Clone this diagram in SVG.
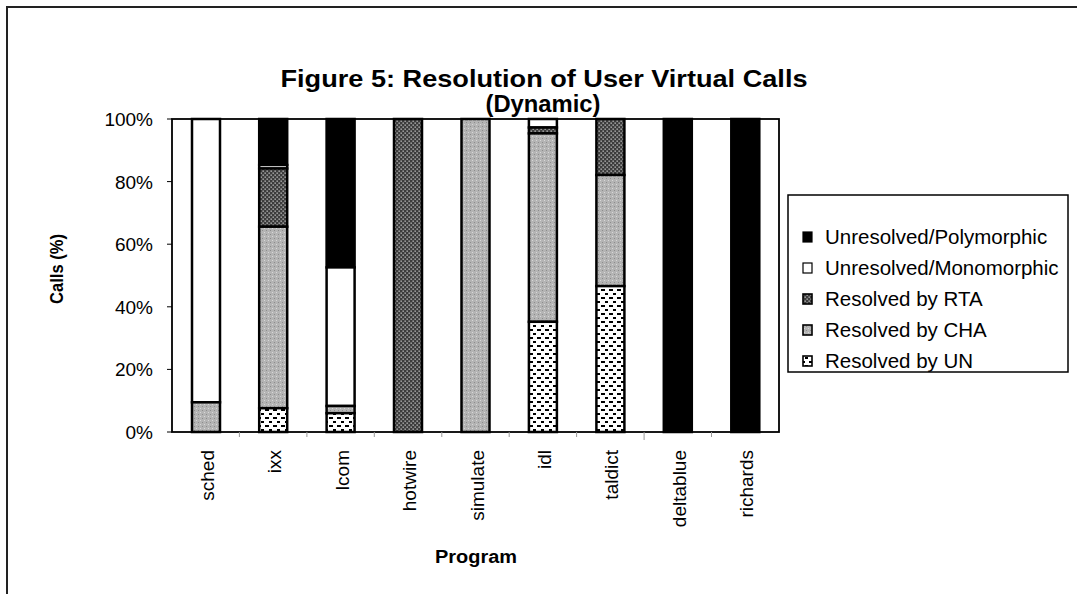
<svg xmlns="http://www.w3.org/2000/svg" width="1077" height="594" viewBox="0 0 1077 594">
<style>
text{font-family:"Liberation Sans",Arial,sans-serif;fill:#000}
.title{font-size:24px;font-weight:bold;text-anchor:middle}
.axt{font-size:18px;font-weight:bold;text-anchor:middle}
.tick{font-size:19px;text-anchor:end}
.cat{font-size:19px;text-anchor:end}
.leg{font-size:20.5px}
.seg{stroke:#000;stroke-width:2.5}
.poly{fill:#000}
.mono{fill:#fff}
.rta{fill:url(#pRTA)}
.cha{fill:url(#pCHA)}
.un{fill:url(#pUN)}
</style>
<defs>
<pattern id="pRTA" width="4" height="4" patternUnits="userSpaceOnUse">
<rect width="4" height="4" fill="#3c3c3c"/>
<rect x="0.5" y="0.5" width="1.3" height="1.3" fill="#c8c8c8"/>
<rect x="2.5" y="2.5" width="1.3" height="1.3" fill="#c8c8c8"/>
</pattern>
<pattern id="pCHA" width="4" height="4" patternUnits="userSpaceOnUse">
<rect width="4" height="4" fill="#b4b4b4"/>
<rect x="0" y="0" width="1" height="1" fill="#d8d8d8"/>
<rect x="2" y="2" width="1" height="1" fill="#8c8c8c"/>
</pattern>
<pattern id="pUN" width="8" height="8" patternUnits="userSpaceOnUse">
<rect width="8" height="8" fill="#fff"/>
<rect x="1" y="1" width="4" height="2" fill="#000"/>
<rect x="5" y="5" width="4" height="2" fill="#000"/>
</pattern>
</defs>
<rect width="1077" height="594" fill="#fff"/>
<g id="frame">
<path d="M7,594 V7 H1077" fill="none" stroke="#222" stroke-width="2"/>
</g>
<g id="titles">
<text class="title" x="544" y="87" textLength="527" lengthAdjust="spacingAndGlyphs">Figure 5: Resolution of User Virtual Calls</text>
<text class="title" x="543" y="112" textLength="115" lengthAdjust="spacingAndGlyphs">(Dynamic)</text>
<text class="axt" transform="translate(63,269) rotate(-90)" textLength="70" lengthAdjust="spacingAndGlyphs">Calls (%)</text>
<text class="axt" x="476" y="563" textLength="82" lengthAdjust="spacingAndGlyphs">Program</text>
</g>
<g id="axes">
<rect x="172" y="119" width="607" height="313" fill="none" stroke="#000" stroke-width="1.8"/>
<g stroke="#000" stroke-width="1">
<line x1="167" y1="119" x2="172" y2="119"/>
<line x1="167" y1="181.6" x2="172" y2="181.6"/>
<line x1="167" y1="244.2" x2="172" y2="244.2"/>
<line x1="167" y1="306.8" x2="172" y2="306.8"/>
<line x1="167" y1="369.4" x2="172" y2="369.4"/>
<line x1="167" y1="432" x2="172" y2="432"/>
</g>
<g stroke="#999" stroke-width="1">
<line x1="239.4" y1="432" x2="239.4" y2="437"/>
<line x1="306.9" y1="432" x2="306.9" y2="437"/>
<line x1="374.3" y1="432" x2="374.3" y2="437"/>
<line x1="441.8" y1="432" x2="441.8" y2="437"/>
<line x1="509.2" y1="432" x2="509.2" y2="437"/>
<line x1="576.6" y1="432" x2="576.6" y2="437"/>
<line x1="644.1" y1="432" x2="644.1" y2="440"/>
<line x1="711.5" y1="432" x2="711.5" y2="437"/>
</g>
<text class="tick" x="153" y="126">100%</text>
<text class="tick" x="153" y="188.6">80%</text>
<text class="tick" x="153" y="251.2">60%</text>
<text class="tick" x="153" y="313.8">40%</text>
<text class="tick" x="153" y="376.4">20%</text>
<text class="tick" x="153" y="439">0%</text>
</g>
<g id="bar-sched">
<rect class="seg mono" x="192" y="119" width="28" height="283.3"/>
<rect class="seg cha" x="192" y="402.3" width="28" height="29.7"/>
<text class="cat" transform="translate(214,450) rotate(-90)">sched</text>
</g>
<g id="bar-ixx">
<rect class="seg poly" x="259.2" y="119" width="28" height="46"/>
<rect class="seg mono" x="259.2" y="165" width="28" height="3.5"/>
<rect class="seg rta" x="259.2" y="168.5" width="28" height="58.2"/>
<rect class="seg cha" x="259.2" y="226.7" width="28" height="181.5"/>
<rect class="seg un" x="259.2" y="408.2" width="28" height="23.8"/>
<text class="cat" transform="translate(281,450) rotate(-90)">ixx</text>
</g>
<g id="bar-lcom">
<rect class="seg poly" x="326.6" y="119" width="28" height="148.4"/>
<rect class="seg mono" x="326.6" y="267.4" width="28" height="138.6"/>
<rect class="seg cha" x="326.6" y="406" width="28" height="7.2"/>
<rect class="seg un" x="326.6" y="413.2" width="28" height="18.8"/>
<text class="cat" transform="translate(348.6,450) rotate(-90)">lcom</text>
</g>
<g id="bar-hotwire">
<rect class="seg rta" x="394" y="119" width="28" height="313"/>
<text class="cat" transform="translate(416,450) rotate(-90)">hotwire</text>
</g>
<g id="bar-simulate">
<rect class="seg cha" x="461.5" y="119" width="28" height="313"/>
<text class="cat" transform="translate(483.5,450) rotate(-90)">simulate</text>
</g>
<g id="bar-idl">
<rect class="seg mono" x="528.9" y="119" width="28" height="8.5"/>
<rect class="seg rta" x="528.9" y="127.5" width="28" height="5.9"/>
<rect class="seg cha" x="528.9" y="133.4" width="28" height="188.4"/>
<rect class="seg un" x="528.9" y="321.8" width="28" height="110.2"/>
<text class="cat" transform="translate(550.9,450) rotate(-90)">idl</text>
</g>
<g id="bar-taldict">
<rect class="seg rta" x="596.4" y="119" width="28" height="56"/>
<rect class="seg cha" x="596.4" y="175" width="28" height="111.1"/>
<rect class="seg un" x="596.4" y="286.1" width="28" height="145.9"/>
<text class="cat" transform="translate(618.4,450) rotate(-90)">taldict</text>
</g>
<g id="bar-deltablue">
<rect class="seg poly" x="663.8" y="119" width="28" height="313"/>
<text class="cat" transform="translate(685.8,450) rotate(-90)">deltablue</text>
</g>
<g id="bar-richards">
<rect class="seg poly" x="731.3" y="119" width="28" height="313"/>
<text class="cat" transform="translate(753.3,450) rotate(-90)">richards</text>
</g>
<g id="legend">
<rect x="788" y="195" width="280" height="177" fill="#fff" stroke="#000" stroke-width="1.5"/>
<rect x="803" y="232" width="9" height="10" fill="#000" stroke="#000" stroke-width="1.2"/>
<text class="leg" x="825" y="244">Unresolved/Polymorphic</text>
<rect x="803" y="263" width="9" height="10" fill="#fff" stroke="#000" stroke-width="1.2"/>
<text class="leg" x="825" y="275">Unresolved/Monomorphic</text>
<rect x="803" y="294" width="9" height="10" class="rta" stroke="#000" stroke-width="1.6"/>
<text class="leg" x="825" y="306">Resolved by RTA</text>
<rect x="803" y="325" width="9" height="10" class="cha" stroke="#000" stroke-width="1.6"/>
<text class="leg" x="825" y="337">Resolved by CHA</text>
<rect x="803" y="356" width="9" height="10" class="un" stroke="#000" stroke-width="1.6"/>
<text class="leg" x="825" y="368">Resolved by UN</text>
</g>
</svg>
